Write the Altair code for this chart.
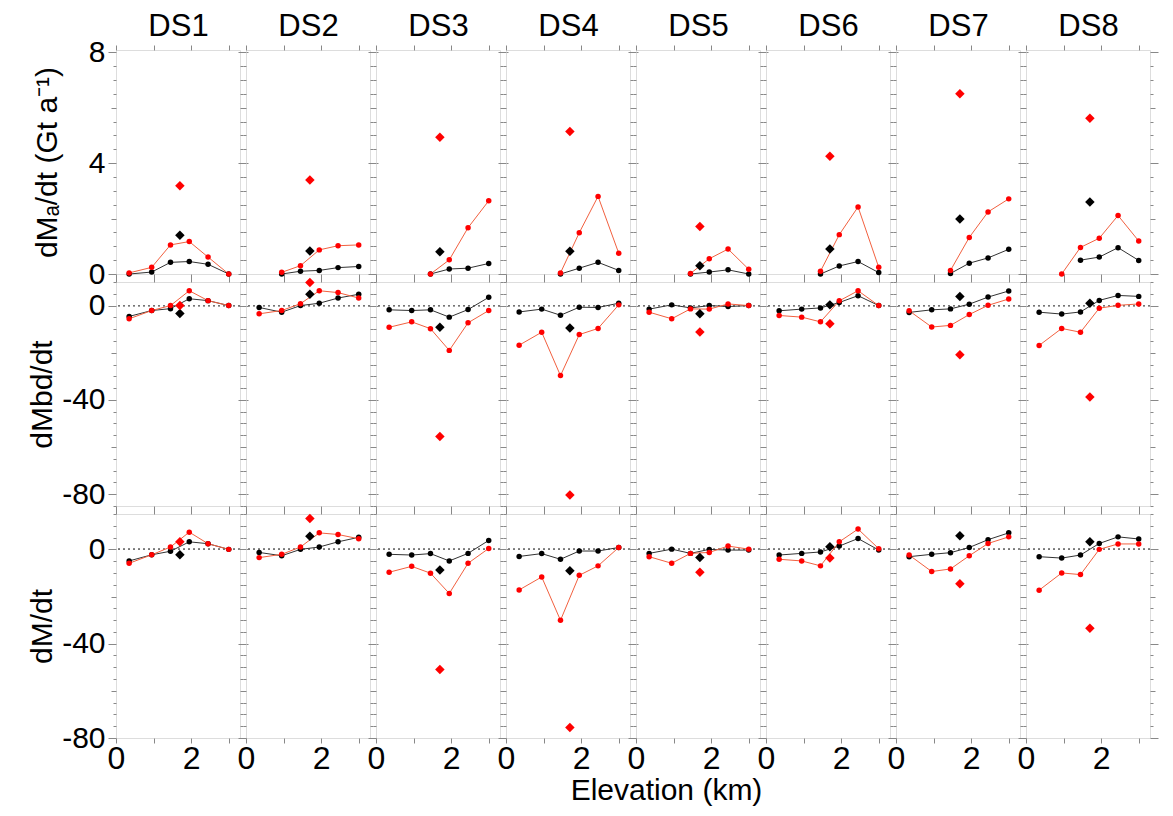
import math
import altair as alt
import pandas as pd

FONT = "Open Sans, Noto Sans, DejaVu Sans"

datasets = ["DS1", "DS2", "DS3", "DS4", "DS5", "DS6", "DS7", "DS8"]
elev_bins = [0.35, 0.95, 1.45, 1.95, 2.45, 3.0]
diamond_elev = 1.7

# Row 1: dMa/dt (Gt a-1)
ma_black = [
    [0.0, 0.07, 0.42, 0.45, 0.35, 0.0],
    [None, 0.0, 0.10, 0.13, 0.23, 0.27],
    [None, None, 0.0, 0.18, 0.21, 0.38],
    [None, None, 0.0, 0.21, 0.42, 0.13],
    [None, None, 0.0, 0.07, 0.15, 0.0],
    [None, None, 0.0, 0.29, 0.45, 0.05],
    [None, None, 0.02, 0.39, 0.58, 0.89],
    [None, None, 0.50, 0.61, 0.95, 0.49],
]
ma_red = [
    [0.04, 0.24, 1.05, 1.17, 0.61, 0.0],
    [None, 0.06, 0.30, 0.87, 1.02, 1.05],
    [None, None, 0.0, 0.51, 1.67, 2.64],
    [None, None, 0.04, 1.49, 2.80, 0.75],
    [None, None, 0.02, 0.55, 0.90, 0.17],
    [None, None, 0.10, 1.42, 2.42, 0.24],
    [None, None, 0.13, 1.32, 2.24, 2.71],
    [None, 0.0, 0.96, 1.29, 2.11, 1.19],
]
ma_diamond_black = [1.40, 0.83, 0.80, 0.82, 0.30, 0.90, 1.98, 2.60]
ma_diamond_red = [3.18, 3.39, 4.93, 5.14, 1.71, 4.25, 6.50, 5.62]

# Row 2: dMbd/dt
mbd_black = [
    [-4.6, -2.1, -1.3, 2.9, 2.1, 0.0],
    [-0.8, -2.8, 0.0, 1.0, 3.2, 4.8],
    [-1.8, -2.1, -1.8, -4.9, -1.7, 3.5],
    [-2.7, -1.5, -4.1, -0.7, -0.8, 1.0],
    [-1.5, 0.3, -1.0, 0.0, -0.4, 0.0],
    [-2.2, -1.5, -1.0, 1.3, 4.2, 0.0],
    [-2.9, -1.8, -1.4, 0.6, 3.6, 6.2],
    [-2.8, -3.6, -2.7, 2.2, 4.3, 3.9],
]
mbd_red = [
    [-5.6, -2.1, 0.0, 6.3, 2.1, 0.0],
    [-3.5, -2.1, 0.8, 6.3, 5.5, 3.2],
    [-9.2, -6.9, -9.8, -19.0, -7.3, -2.1],
    [-16.8, -11.3, -29.7, -12.3, -9.7, 0.3],
    [-2.8, -5.6, -1.4, -1.5, 0.7, 0.0],
    [-4.2, -4.9, -6.9, 2.0, 6.3, 0.0],
    [-2.2, -9.1, -8.4, -3.8, 0.1, 2.8],
    [-16.9, -9.7, -11.3, -1.1, 0.1, 0.7],
]
mbd_diamond_black = [-3.4, 4.8, -9.2, -9.5, -3.5, 0.3, 3.9, 1.0]
mbd_diamond_red = [0.0, 9.8, -55.5, -80.3, -11.2, -7.7, -20.9, -38.8]

# Row 3: dM/dt
m_black = [
    [-4.9, -2.3, -0.8, 3.2, 2.4, 0.0],
    [-1.3, -2.7, 0.0, 1.0, 3.2, 5.1],
    [-2.1, -2.4, -1.8, -4.9, -1.7, 3.8],
    [-3.0, -1.8, -4.2, -0.7, -0.7, 0.8],
    [-1.7, 0.1, -1.7, 0.0, -0.3, -0.3],
    [-2.4, -1.7, -1.1, 1.4, 4.6, -0.3],
    [-3.1, -2.1, -1.4, 0.8, 4.1, 7.0],
    [-3.1, -3.7, -2.4, 2.5, 5.3, 4.4],
]
m_red = [
    [-5.9, -2.3, 1.0, 7.3, 2.4, 0.0],
    [-3.5, -2.1, 1.0, 7.0, 6.3, 4.5],
    [-9.7, -7.2, -10.1, -18.7, -5.9, 0.4],
    [-17.2, -11.7, -30.1, -11.0, -7.0, 0.8],
    [-3.1, -5.9, -1.7, -1.3, 1.4, 0.1],
    [-4.2, -4.9, -7.0, 3.2, 8.6, 0.3],
    [-2.4, -9.4, -8.3, -2.7, 2.5, 5.3],
    [-17.3, -10.0, -10.7, 0.0, 2.3, 2.3],
]
m_diamond_black = [-2.3, 5.6, -8.7, -9.1, -3.4, 1.1, 5.8, 3.2]
m_diamond_red = [3.2, 13.1, -50.9, -75.5, -9.7, -3.7, -14.6, -33.5]

row_titles = ["dMₐ/dt (Gt a⁻¹)", "dMbd/dt", "dM/dt"]
row_domains = [[0, 8.08], [-85, 10], [-80, 15]]
row_major = [4, 40, 40]
row_mid = [2, 20, 20]
row_minor = [0.5, 5, 5]
row_title_pad = [26, 4, 4]

rows = [
    (ma_black, ma_red, ma_diamond_black, ma_diamond_red),
    (mbd_black, mbd_red, mbd_diamond_black, mbd_diamond_red),
    (m_black, m_red, m_diamond_black, m_diamond_red),
]

W, H = 124, 224
x_ticks = [0, 1, 2, 3]
LINE_COLORS = {"black": "#333333", "red": "#f2603f"}
POINT_COLORS = {"black": "#000000", "red": "#ff0000"}


def frange(a, b, step):
    vals = []
    v = a
    while v <= b + 1e-9:
        vals.append(round(v, 4))
        v += step
    return vals


def panel(r, c):
    blk, red, dblk, dred = rows[r]
    recs = []
    for kind, arr in (("black", blk[c]), ("red", red[c])):
        for e, v in zip(elev_bins, arr):
            if v is not None:
                recs.append({"elev": e, "val": v, "kind": kind,
                             "lcol": LINE_COLORS[kind], "pcol": POINT_COLORS[kind]})
    df = pd.DataFrame(recs)
    dia = pd.DataFrame({
        "elev": [diamond_elev, diamond_elev],
        "val": [dblk[c], dred[c]],
        "pcol": [POINT_COLORS["black"], POINT_COLORS["red"]],
    })

    lo, hi = row_domains[r]
    xscale = alt.Scale(domain=[0, 3.3], nice=False, zero=False)
    yscale = alt.Scale(domain=[lo, hi], nice=False, zero=False)
    major, mid, minor = row_major[r], row_mid[r], row_minor[r]
    yvals = frange(math.ceil(lo / minor) * minor, hi, minor)

    ytick_size = {
        "condition": [
            {"test": f"datum.value % {major} === 0", "value": 8},
            {"test": f"datum.value % {mid} === 0", "value": 5},
        ],
        "value": 3,
    }
    show_ylab = c == 0
    show_xlab = r == 2

    left_axis = alt.Axis(
        orient="left", values=yvals, tickSize=ytick_size, domain=False, grid=False,
        labels=show_ylab, labelOverlap=False, labelFlush=False, labelBound=False,
        labelExpr=f"datum.value % {major} === 0 ? '' + datum.value : ''",
        labelFontSize=30, labelPadding=3,
        title=row_titles[r] if show_ylab else None,
        titleFontSize=30, titleFontWeight="normal", titlePadding=row_title_pad[r],
    )
    right_axis = alt.Axis(orient="right", values=yvals, tickSize=ytick_size,
                          domain=False, grid=False, labels=False, title=None)

    xtitle = None
    xkw = {}
    if r == 2 and c == 3:
        xtitle = "Elevation (km)"
        xkw = dict(titleX=160, titleFontSize=30, titleFontWeight="normal", titlePadding=1)
    bottom_axis = alt.Axis(
        orient="bottom", values=x_ticks, tickSize=5, domain=False, grid=False,
        labels=show_xlab, labelOverlap=False, labelFlush=False, labelBound=False,
        labelExpr="datum.value % 2 === 0 ? datum.label : ''",
        labelFontSize=32, labelPadding=0, title=xtitle, **xkw,
    )
    tkw = {}
    ttitle = None
    if r == 0:
        ttitle = datasets[c]
        tkw = dict(titleFontSize=31, titleFontWeight="normal", titlePadding=2)
    top_axis = alt.Axis(orient="top", values=x_ticks, tickSize=5, domain=False, grid=False,
                        labels=False, title=ttitle, **tkw)

    base_line = alt.Chart(df).mark_line(strokeWidth=1).encode(
        x=alt.X("elev:Q", scale=xscale, axis=bottom_axis),
        y=alt.Y("val:Q", scale=yscale, axis=left_axis),
        color=alt.Color("lcol:N", scale=None),
        detail="kind:N",
    )
    pts = alt.Chart(df).mark_circle(size=30, opacity=1).encode(
        x=alt.X("elev:Q", scale=xscale, axis=top_axis),
        y=alt.Y("val:Q", scale=yscale, axis=right_axis),
        color=alt.Color("pcol:N", scale=None),
    )
    dia_layer = alt.Chart(dia).mark_point(shape="diamond", filled=True, size=90, opacity=1).encode(
        x=alt.X("elev:Q", scale=xscale, axis=None),
        y=alt.Y("val:Q", scale=yscale, axis=None),
        color=alt.Color("pcol:N", scale=None),
    )
    layers = []
    if r > 0:
        zero = alt.Chart(df).mark_rule(strokeDash=[2, 3], color="#777777", strokeWidth=1).encode(
            y=alt.YDatum(0, scale=yscale, axis=None)
        )
        layers.append(zero)
    layers += [base_line, pts, dia_layer]
    ch = alt.layer(*layers).resolve_axis(x="independent", y="independent").properties(
        width=W, height=H
    )
    return ch


panels = [panel(r, c) for r in range(3) for c in range(8)]

chart = alt.concat(
    *panels, columns=8, spacing={"row": 8, "column": 6}, bounds="flush",
    padding={"left": 19, "top": 2, "right": 0, "bottom": 0},
).configure_view(
    stroke="#555555", strokeWidth=1
).configure_axis(
    grid=False, tickColor="#555555", tickWidth=1,
    labelFont=FONT, titleFont=FONT, labelColor="black", titleColor="black",
).configure(background="white")

chart.save("out.html", embed_options={"renderer": "svg", "actions": False})
